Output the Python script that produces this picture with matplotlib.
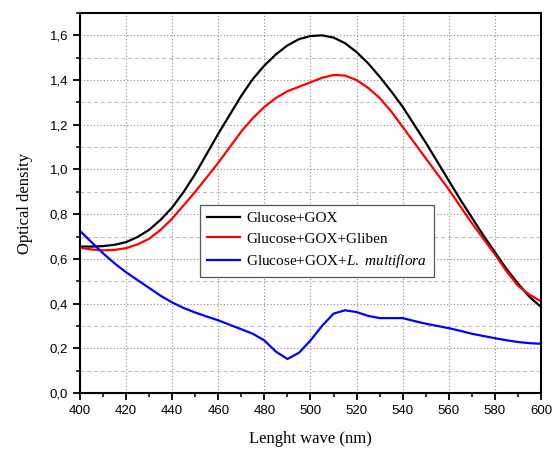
import matplotlib
matplotlib.use('Agg')
import matplotlib.pyplot as plt
from matplotlib.ticker import MultipleLocator, FuncFormatter

# wavelength (nm)
wave = [400, 405, 410, 415, 420, 425, 430, 435, 440, 445, 450, 455, 460, 465, 470,
        475, 480, 485, 490, 495, 500, 505, 510, 515, 520, 525, 530, 535, 540, 545,
        550, 555, 560, 565, 570, 575, 580, 585, 590, 595, 600]

glucose_gox = [0.655, 0.655, 0.657, 0.663, 0.675, 0.698, 0.73, 0.775, 0.83, 0.90,
               0.98, 1.07, 1.16, 1.245, 1.33, 1.405, 1.465, 1.515, 1.555, 1.583,
               1.597, 1.60, 1.59, 1.565, 1.525, 1.475, 1.415, 1.35, 1.28, 1.20,
               1.12, 1.035, 0.95, 0.865, 0.785, 0.705, 0.63, 0.555, 0.49, 0.43, 0.385]

glucose_gox_gliben = [0.65, 0.642, 0.638, 0.64, 0.648, 0.665, 0.69, 0.73, 0.78, 0.84,
                      0.90, 0.965, 1.03, 1.10, 1.17, 1.23, 1.28, 1.32, 1.35, 1.37,
                      1.39, 1.41, 1.423, 1.42, 1.40, 1.365, 1.32, 1.26, 1.19, 1.12,
                      1.05, 0.98, 0.91, 0.835, 0.76, 0.69, 0.62, 0.545, 0.48, 0.44, 0.41]

glucose_gox_lm = [0.725, 0.675, 0.625, 0.58, 0.54, 0.505, 0.47, 0.435, 0.405, 0.38,
                  0.36, 0.342, 0.325, 0.305, 0.285, 0.265, 0.235, 0.185, 0.152, 0.18,
                  0.235, 0.30, 0.355, 0.37, 0.362, 0.345, 0.335, 0.335, 0.335, 0.322,
                  0.31, 0.30, 0.29, 0.278, 0.265, 0.255, 0.245, 0.236, 0.228, 0.223, 0.22]

labels = ['Glucose+GOX', 'Glucose+GOX+Gliben', 'Glucose+GOX+$\\mathit{L.\\ multiflora}$']

plt.rcParams['mathtext.fontset'] = 'custom'
plt.rcParams['mathtext.it'] = 'Liberation Serif:italic'
plt.rcParams['mathtext.rm'] = 'Liberation Serif'

fig = plt.figure(figsize=(5.55, 4.5), dpi=100)
ax = fig.add_axes([0.1441, 0.1267, 0.8307, 0.8444])

ax.plot(wave, glucose_gox, color='black', lw=1.6, label=labels[0])
ax.plot(wave, glucose_gox_gliben, color='#ff0000', lw=1.6, label=labels[1])
ax.plot(wave, glucose_gox_lm, color='#0000ff', lw=1.6, label=labels[2])

ax.set_xlim(400, 600)
ax.set_ylim(0, 1.7)
ax.xaxis.set_major_locator(MultipleLocator(20))
ax.xaxis.set_minor_locator(MultipleLocator(10))
ax.yaxis.set_major_locator(MultipleLocator(0.2))
ax.yaxis.set_minor_locator(MultipleLocator(0.1))
ax.yaxis.set_major_formatter(FuncFormatter(lambda v, p: ('%.1f' % v).replace('.', ',')))

ax.grid(which='major', axis='both', color='#888888', linestyle=(0, (1, 2)), lw=0.8)
ax.grid(which='minor', axis='y', color='#bbbbbb', linestyle=(0, (4, 3)), lw=0.7)
ax.set_axisbelow(True)

ax.tick_params(which='major', direction='out', length=5, width=1.3,
               labelsize=9.5, top=False, right=False)
ax.tick_params(which='minor', direction='out', length=3, width=1.1, top=False, right=False)
for lab in ax.get_xticklabels() + ax.get_yticklabels():
    lab.set_family('Liberation Sans')
for s in ax.spines.values():
    s.set_linewidth(1.5)

ax.set_xlabel('Lenght wave (nm)', family='Liberation Serif', fontsize=12, labelpad=10)
ax.set_ylabel('Optical density', family='Liberation Serif', fontsize=12, labelpad=12)

leg = ax.legend(loc='upper left', bbox_to_anchor=(0.26, 0.495), borderaxespad=0,
                prop={'family': 'Liberation Serif', 'size': 11}, fancybox=False,
                edgecolor='#555555', framealpha=1, handlelength=2.2,
                handletextpad=0.4, labelspacing=0.42, borderpad=0.45)
leg.get_frame().set_linewidth(0.9)

plt.savefig('out.png', dpi=100)
